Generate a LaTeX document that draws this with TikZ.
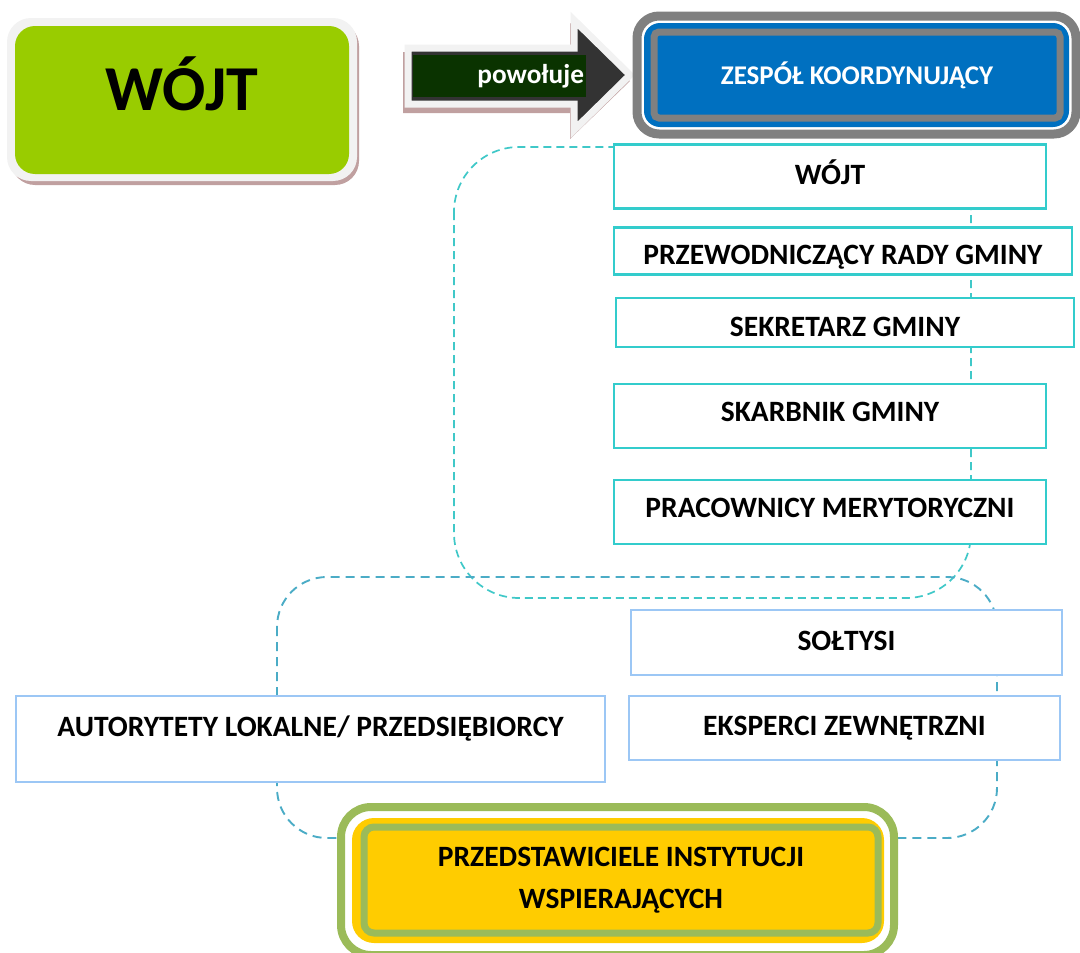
\documentclass[tikz,border=0pt]{standalone}
\usepackage{fontspec}
\setmainfont{Carlito}
\definecolor{wgreen}{HTML}{99CC00}
\definecolor{lightg}{HTML}{F2F2F2}
\definecolor{shadowc}{HTML}{C0A0A0}
\definecolor{dgreen}{HTML}{0A3300}
\definecolor{darkg}{HTML}{333333}
\definecolor{zblue}{HTML}{0070C0}
\definecolor{zgray}{HTML}{808080}
\definecolor{cyanB}{HTML}{33CCCC}
\definecolor{cyanD}{HTML}{40C8C8}
\definecolor{tealD}{HTML}{4BACC6}
\definecolor{lblue}{HTML}{9CC7F5}
\definecolor{ygold}{HTML}{FFCC00}
\definecolor{ggreen}{HTML}{9BBB59}
\begin{document}
\begin{tikzpicture}[x=1pt,y=-1pt,
  txt/.style={font=\bfseries\fontsize{29.5}{42}\selectfont, text height=19pt, text depth=0pt},
  cbox/.style={txt, draw=cyanB, line width=2.2pt, fill=white, inner sep=0pt},
  lbox/.style={txt, draw=lblue, line width=2pt, fill=white, inner sep=0pt},
  dashA/.style={draw=cyanD, dash pattern=on 8pt off 5pt, line width=1.7pt, rounded corners=65pt},
  dashB/.style={draw=tealD, dash pattern=on 9pt off 6pt, line width=1.9pt, rounded corners=50pt}]
\useasboundingbox (0,0) rectangle (1080,953);

% dashed groupings
\coordinate (a1) at (454,147);
\coordinate (a2) at (971,598);
\coordinate (b1) at (277,577);
\coordinate (b2) at (997,838);
\draw[dashA] (a1) rectangle (a2);
\draw[dashB] (b1) rectangle (b2);

% top-left WOJT
\fill[shadowc, rounded corners=24pt] (11,22) rectangle (359,185);
\fill[lightg, rounded corners=24pt] (7,18) rectangle (357,181);
\node[fill=wgreen, rounded corners=20pt, minimum width=334pt, minimum height=148pt, inner sep=0pt,
  font=\bfseries\fontsize{64}{72}\selectfont, text height=41pt, text depth=20pt] (wojt) at (182,100) {WÓJT};

% arrow "powołuje"
\fill[shadowc] (403,52) -- (570,52) -- (570,23) -- (630,81) -- (570,139) -- (570,113) -- (403,113) -- cycle;
\draw[lightg, line width=7pt, fill=darkg, line join=miter] (408,48) -- (574,48) -- (574,20) -- (630,75) -- (574,130) -- (574,104) -- (408,104) -- cycle;
\node[fill=dgreen, text=white, minimum width=173pt, minimum height=42pt, inner sep=0pt, text width=169pt, align=right,
  font=\bfseries\fontsize{27.3}{32}\selectfont, text height=20pt, text depth=5pt] (pow) at (499.5,76) {powołuje};

% ZESPOL KOORDYNUJACY
\draw[zgray, line width=9pt, fill=white, rounded corners=22pt] (637,16) rectangle (1076,134);
\fill[zblue, rounded corners=16pt] (644,23) rectangle (1069,127);
\node[draw=zgray, line width=7pt, fill=zblue, rounded corners=5pt, minimum width=406pt, minimum height=86pt, inner sep=0pt,
  text=white, font=\bfseries\fontsize{27}{32}\selectfont, text height=18pt, text depth=0pt] (zesp) at (857,75) {ZESPÓŁ KOORDYNUJĄCY};

% stack of members
\node[cbox, minimum width=432pt, minimum height=64pt, text height=15pt, text depth=0pt] (m1) at (830,176.5) {WÓJT};
\node[cbox, minimum width=458pt, minimum height=47pt, text height=27pt] (m2) at (843,251) {PRZEWODNICZĄCY RADY GMINY};
\node[cbox, minimum width=458pt, minimum height=49pt, text height=28pt] (m3) at (845,322.5) {SEKRETARZ GMINY};
\node[cbox, minimum width=432pt, minimum height=64pt, text height=19pt, text depth=8pt] (m4) at (830,416) {SKARBNIK GMINY};
\node[cbox, minimum width=432pt, minimum height=64pt, text height=19pt, text depth=8pt] (m5) at (830,512) {PRACOWNICY MERYTORYCZNI};

\node[lbox, minimum width=431pt, minimum height=65pt, text height=15pt] (s1) at (846.5,642.5) {SOŁTYSI};
\node[lbox, minimum width=431pt, minimum height=64pt, text height=15pt] (s2) at (844.5,728) {EKSPERCI ZEWNĘTRZNI};
\node[lbox, minimum width=589pt, minimum height=86pt, text height=19pt, text depth=25pt] (s3) at (310.5,739) {AUTORYTETY LOKALNE/ PRZEDSIĘBIORCY};

% bottom yellow box
\draw[ggreen, line width=8pt, fill=white, rounded corners=30pt] (341,807) rectangle (894,955);
\fill[ygold, rounded corners=22pt] (352,818) rectangle (884,943);
\node[draw=ggreen, line width=7pt, fill=ygold, rounded corners=10pt, minimum width=514pt, minimum height=106pt, inner sep=0pt,
  align=center, font=\bfseries\fontsize{29.5}{42}\selectfont] (inst) at (621,880) {PRZEDSTAWICIELE INSTYTUCJI\\WSPIERAJĄCYCH};
\end{tikzpicture}
\end{document}
